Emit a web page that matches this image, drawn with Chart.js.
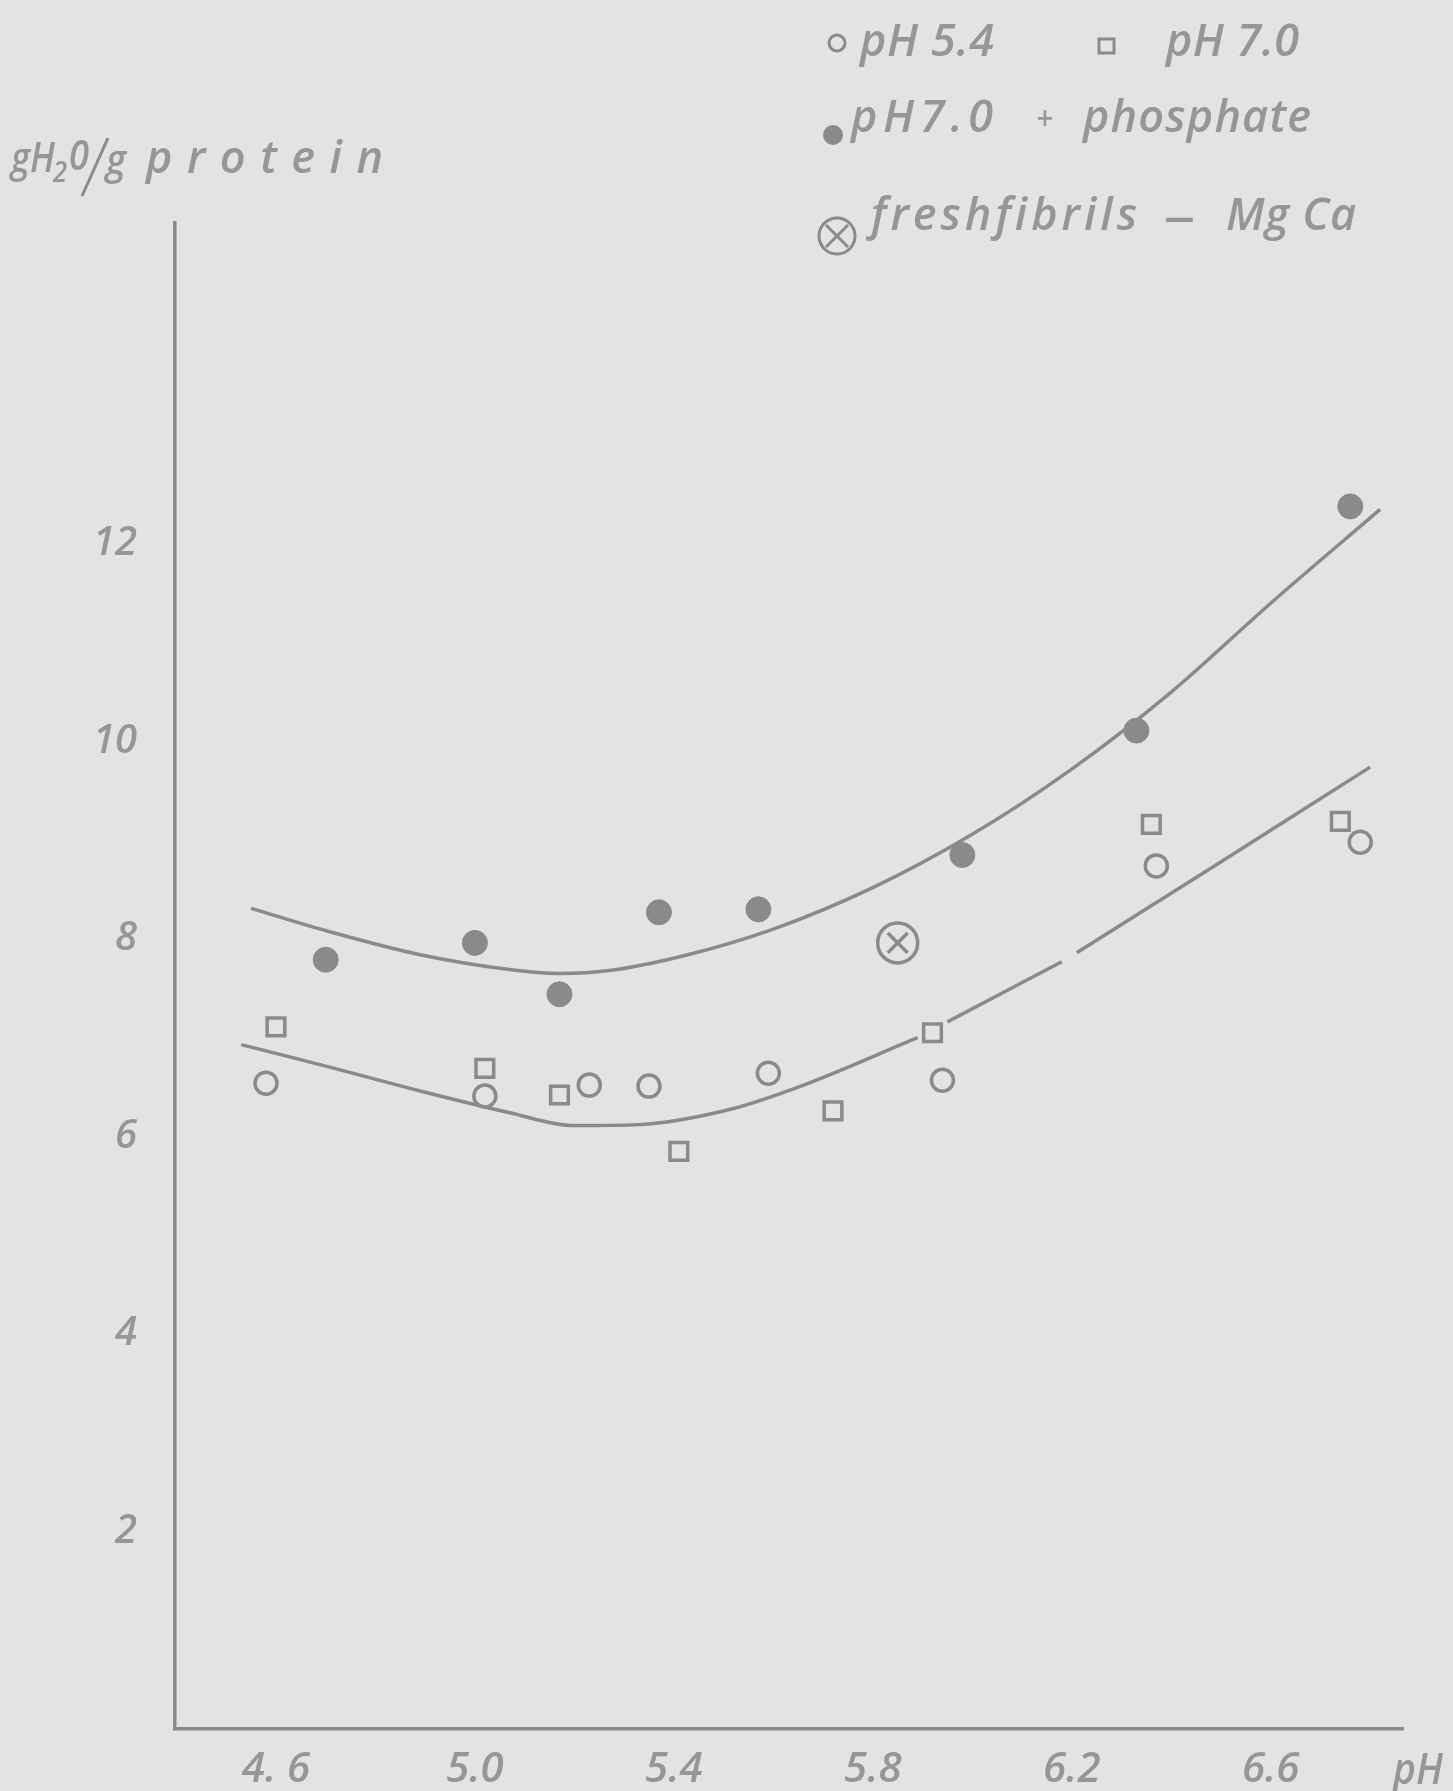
<!DOCTYPE html>
<html>
<head>
<meta charset="utf-8">
<script src="https://cdn.jsdelivr.net/npm/chart.js@4.4.1/dist/chart.umd.min.js"></script>
<style>
  html, body { margin: 0; padding: 0; background: #e3e3e1; }
  #wrap { width: 1453px; height: 1791px; position: relative; }
</style>
</head>
<body>
<div id="wrap"><canvas id="chart" width="1453" height="1791"></canvas></div>
<script>
// values
const pH54X = [4.58, 5.02, 5.23, 5.35, 5.59, 5.94, 6.37, 6.78];
const pH54Y = [6.54, 6.41, 6.52, 6.51, 6.64, 6.57, 8.74, 8.98];

const pH70X = [4.60, 5.02, 5.17, 5.41, 5.72, 5.92, 6.36, 6.74];
const pH70Y = [7.11, 6.69, 6.42, 5.85, 6.26, 7.05, 9.16, 9.19];

const phosX = [4.70, 5.00, 5.17, 5.37, 5.57, 5.98, 6.33, 6.76];
const phosY = [7.79, 7.96, 7.44, 8.27, 8.30, 8.85, 10.11, 12.38];

const freshX = [5.85];
const freshY = [7.96];

// hand-drawn fit curves (null = break in the pen line)
const upperX = [4.55, 4.71, 4.89, 5.07, 5.17, 5.27, 5.42, 5.60, 5.80, 6.00, 6.20, 6.40, 6.60, 6.82];
const upperY = [8.31, 8.07, 7.84, 7.69, 7.65, 7.68, 7.83, 8.10, 8.52, 9.06, 9.72, 10.50, 11.40, 12.35];
const lowerX = [4.53, 4.71, 4.89, 5.07, 5.20, 5.33, 5.51, 5.65, 5.89, 5.92, 5.95, 6.18, 6.195, 6.21, 6.49, 6.80];
const lowerY = [6.93, 6.70, 6.46, 6.24, 6.11, 6.12, 6.27, 6.50, 7.00, null, 7.16, 7.77, null, 7.86, 8.75, 9.74];

const xTicks = [4.6, 5.0, 5.4, 5.8, 6.2, 6.6];
const xTickLabels = ["4. 6", "5.0", "5.4", "5.8", "6.2", "6.6"];
const yTicks = [2, 4, 6, 8, 10, 12];
const yTickLabels = ["2", "4", "6", "8", "10", "12"];

const ink = "#8a8a8a";
const textInk = "#969696";
const paper = "#e3e3e1";
const family = '"Open Sans", "Liberation Sans"';

const zip = (xs, ys) => xs.map((x, i) => ({ x: x, y: ys[i] }));

// left-aligned text spread with letter spacing to cover [left, right]
function spacedText(ctx, str, left, right, midY, size) {
  ctx.save();
  ctx.font = "italic 600 " + size + "px " + family;
  ctx.textBaseline = "middle";
  ctx.textAlign = "left";
  ctx.letterSpacing = "0px";
  const w = ctx.measureText(str).width;
  const n = str.length;
  if (n > 1 && right - left > w) {
    ctx.letterSpacing = ((right - left - w) / (n - 1)).toFixed(2) + "px";
    ctx.fillText(str, left, midY);
  } else {
    ctx.translate(left, midY);
    ctx.scale((right - left) / w, 1);
    ctx.fillText(str, 0, 0);
  }
  ctx.restore();
}

function circle(ctx, x, y, r, fill) {
  ctx.beginPath();
  ctx.arc(x, y, r, 0, Math.PI * 2);
  if (fill) { ctx.fill(); } else { ctx.stroke(); }
}

const decorations = {
  id: "decorations",
  beforeDraw(chart) {
    const ctx = chart.ctx;
    ctx.save();
    ctx.fillStyle = paper;
    ctx.fillRect(0, 0, chart.width, chart.height);
    ctx.restore();
  },
  afterDraw(chart) {
    const ctx = chart.ctx;
    const area = chart.chartArea;
    ctx.save();
    ctx.fillStyle = textInk;
    ctx.strokeStyle = ink;
    ctx.lineWidth = 3;

    // legend, line 1
    circle(ctx, 837, 43, 8, false);
    spacedText(ctx, "pH 5.4", 860, 994, 43, 45);
    ctx.strokeRect(1099, 39, 15, 14);
    spacedText(ctx, "pH 7.0", 1166, 1299, 43, 45);
    // line 2
    ctx.fillStyle = ink;
    circle(ctx, 833, 135, 10, true);
    ctx.fillStyle = textInk;
    spacedText(ctx, "pH7.0", 851, 993, 119, 45);
    spacedText(ctx, "+", 1036, 1053, 121, 32);
    spacedText(ctx, "phosphate", 1083, 1311, 119, 45);
    // line 3
    circle(ctx, 837, 236, 18, false);
    ctx.beginPath();
    ctx.moveTo(826, 225); ctx.lineTo(848, 247);
    ctx.moveTo(848, 225); ctx.lineTo(826, 247);
    ctx.stroke();
    spacedText(ctx, "freshfibrils", 871, 1137, 217, 45);
    spacedText(ctx, "\u2014", 1165, 1194, 219, 45);
    spacedText(ctx, "Mg Ca", 1226, 1356, 217, 45);

    // y-axis title
    const ty = area.top - 63;
    spacedText(ctx, "gH", 11, 55, ty, 42);
    spacedText(ctx, "2", 53, 67, ty + 14, 28);
    spacedText(ctx, "0", 69, 89, ty - 2, 42);
    ctx.beginPath();
    ctx.moveTo(108, ty - 22);
    ctx.lineTo(82, ty + 36);
    ctx.stroke();
    spacedText(ctx, "g", 106, 126, ty + 2, 42);
    spacedText(ctx, "protein", 146, 383, ty, 45);

    // x-axis title
    spacedText(ctx, "pH", area.right - 10, area.right + 40, area.bottom + 42, 44);
    ctx.restore();
  }
};

const pointBase = { showLine: false, borderColor: ink, borderWidth: 3.5 };

new Chart(document.getElementById("chart"), {
  type: "scatter",
  data: {
    datasets: [
      Object.assign({ label: "pH 5.4", data: zip(pH54X, pH54Y), pointStyle: "circle",
        pointRadius: 11, backgroundColor: "rgba(0,0,0,0)" }, pointBase),
      Object.assign({ label: "pH 7.0", data: zip(pH70X, pH70Y), pointStyle: "rect",
        pointRadius: 12.5, backgroundColor: "rgba(0,0,0,0)" }, pointBase),
      Object.assign({ label: "pH 7.0 + phosphate", data: zip(phosX, phosY), pointStyle: "circle",
        pointRadius: 12.5, backgroundColor: ink }, pointBase, { borderWidth: 1 }),
      Object.assign({ label: "fresh fibrils - Mg Ca", data: zip(freshX, freshY), pointStyle: "circle",
        pointRadius: 20, backgroundColor: "rgba(0,0,0,0)" }, pointBase),
      Object.assign({ label: "fresh fibrils cross", data: zip(freshX, freshY), pointStyle: "crossRot",
        pointRadius: 14 }, pointBase),
      { type: "line", label: "upper fit", data: zip(upperX, upperY), borderColor: ink, borderWidth: 3.5,
        pointRadius: 0, cubicInterpolationMode: "monotone", fill: false, spanGaps: false },
      { type: "line", label: "lower fit", data: zip(lowerX, lowerY), borderColor: ink, borderWidth: 3.5,
        pointRadius: 0, cubicInterpolationMode: "monotone", fill: false, spanGaps: false }
    ]
  },
  options: {
    responsive: false,
    animation: false,
    events: [],
    layout: { padding: { top: 223, right: 50, left: 0, bottom: 0 } },
    plugins: { legend: { display: false }, tooltip: { enabled: false } },
    scales: {
      x: {
        type: "linear",
        min: 4.397,
        max: 6.866,
        afterBuildTicks: (s) => { s.ticks = xTicks.map(v => ({ value: v })); },
        afterFit: (s) => { s.height = 58; },
        grid: { display: false, drawTicks: false },
        border: { display: true, color: ink, width: 3.5 },
        ticks: {
          padding: 16,
          color: textInk,
          font: { family: family, size: 42, style: "italic", weight: "600" },
          callback: (v, i) => xTickLabels[i]
        }
      },
      y: {
        type: "linear",
        min: 0,
        max: 15.25,
        afterBuildTicks: (s) => { s.ticks = yTicks.map(v => ({ value: v })); },
        afterFit: (s) => { s.width = 175; },
        grid: { display: false, drawTicks: false },
        border: { display: true, color: ink, width: 3.5 },
        ticks: {
          padding: 38,
          color: textInk,
          font: { family: family, size: 40, style: "italic", weight: "600" },
          callback: (v, i) => yTickLabels[i]
        }
      }
    }
  },
  plugins: [decorations]
});
</script>
</body>
</html>
